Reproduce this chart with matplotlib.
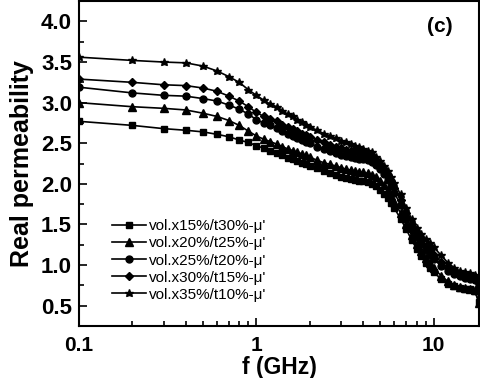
import matplotlib
matplotlib.use('Agg')
import matplotlib.pyplot as plt
from matplotlib.ticker import LogLocator, MultipleLocator, FixedLocator

plt.rcParams['font.family'] = ['Liberation Sans', 'DejaVu Sans']

# frequency points (GHz)
freq = [0.1, 0.2, 0.3, 0.4, 0.5, 0.6, 0.7, 0.8, 0.9, 1.0,
        1.1, 1.2, 1.3, 1.4, 1.5, 1.6, 1.7, 1.8, 1.9, 2.0,
        2.2, 2.4, 2.6, 2.8, 3.0, 3.2, 3.4, 3.6, 3.8, 4.0,
        4.25, 4.5, 4.75, 5.0, 5.25, 5.5, 5.75, 6.0,
        6.5, 7.0, 7.5, 8.0, 8.5, 9.0, 9.5, 10.0,
        11, 12, 13, 14, 15, 16, 17, 18]

mu_x15 = [2.77, 2.72, 2.68, 2.66, 2.64, 2.61, 2.58, 2.54, 2.51, 2.47,
          2.44, 2.41, 2.38, 2.35, 2.32, 2.30, 2.28, 2.26, 2.24, 2.22,
          2.19, 2.16, 2.13, 2.11, 2.09, 2.07, 2.06, 2.05, 2.04, 2.03,
          2.02, 2.00, 1.97, 1.93, 1.88, 1.82, 1.76, 1.70,
          1.57, 1.44, 1.31, 1.20, 1.11, 1.03, 0.97, 0.91,
          0.83, 0.77, 0.74, 0.72, 0.71, 0.70, 0.68, 0.55]
mu_x20 = [3.00, 2.95, 2.93, 2.91, 2.87, 2.83, 2.78, 2.72, 2.65, 2.59,
          2.55, 2.52, 2.49, 2.46, 2.43, 2.41, 2.39, 2.37, 2.35, 2.33,
          2.29, 2.26, 2.24, 2.22, 2.20, 2.18, 2.17, 2.16, 2.15, 2.14,
          2.13, 2.11, 2.08, 2.03, 1.98, 1.92, 1.85, 1.78,
          1.64, 1.50, 1.37, 1.26, 1.17, 1.09, 1.02, 0.96,
          0.87, 0.80, 0.76, 0.73, 0.72, 0.71, 0.69, 0.53]
mu_x25 = [3.19, 3.12, 3.09, 3.08, 3.05, 3.02, 2.97, 2.92, 2.86, 2.79,
          2.75, 2.72, 2.69, 2.65, 2.62, 2.59, 2.56, 2.54, 2.52, 2.50,
          2.46, 2.43, 2.40, 2.38, 2.36, 2.34, 2.33, 2.32, 2.31, 2.30,
          2.29, 2.27, 2.23, 2.18, 2.12, 2.05, 1.97, 1.89,
          1.74, 1.58, 1.45, 1.34, 1.26, 1.19, 1.13, 1.08,
          0.99, 0.93, 0.89, 0.86, 0.84, 0.83, 0.82, 0.75]
mu_x30 = [3.29, 3.25, 3.22, 3.21, 3.18, 3.14, 3.08, 3.02, 2.95, 2.88,
          2.83, 2.80, 2.77, 2.73, 2.70, 2.67, 2.65, 2.62, 2.60, 2.58,
          2.54, 2.51, 2.48, 2.46, 2.44, 2.42, 2.41, 2.40, 2.39, 2.38,
          2.36, 2.34, 2.29, 2.24, 2.18, 2.11, 2.03, 1.95,
          1.80, 1.64, 1.50, 1.39, 1.31, 1.24, 1.18, 1.13,
          1.04, 0.97, 0.92, 0.89, 0.87, 0.86, 0.85, 0.78]
mu_x35 = [3.56, 3.52, 3.50, 3.49, 3.45, 3.39, 3.32, 3.25, 3.16, 3.09,
          3.03, 2.98, 2.95, 2.90, 2.86, 2.83, 2.79, 2.76, 2.73, 2.70,
          2.66, 2.62, 2.59, 2.56, 2.53, 2.51, 2.49, 2.47, 2.45, 2.43,
          2.41, 2.39, 2.33, 2.28, 2.22, 2.16, 2.09, 2.01,
          1.87, 1.70, 1.57, 1.46, 1.38, 1.32, 1.27, 1.22,
          1.12, 1.03, 0.97, 0.93, 0.91, 0.90, 0.88, 0.80]

labels = ["vol.x15%/t30%-μ'", "vol.x20%/t25%-μ'", "vol.x25%/t20%-μ'",
          "vol.x30%/t15%-μ'", "vol.x35%/t10%-μ'"]
markers = ['s', '^', 'o', 'D', '*']
sizes = [4.8, 5.2, 5.0, 4.4, 6.2]
series = [mu_x15, mu_x20, mu_x25, mu_x30, mu_x35]

fig = plt.figure(figsize=(4.8, 3.78), dpi=100)
ax = fig.add_axes([0.1646, 0.1376, 0.8334, 0.8594])

for vals, m, s, lab in zip(series, markers, sizes, labels):
    ax.plot(freq, vals, color='black', lw=1.2, marker=m, ms=s, label=lab)

ax.set_xscale('log')
ax.set_xlim(0.1, 18)
ax.set_ylim(0.25, 4.25)
ax.xaxis.set_major_locator(FixedLocator([0.1, 1, 10]))
ax.xaxis.set_minor_locator(LogLocator(base=10, subs=range(2, 10)))
ax.set_xticklabels(['0.1', '1', '10'])
ax.xaxis.set_minor_formatter(plt.NullFormatter())
ax.yaxis.set_major_locator(MultipleLocator(0.5))
ax.yaxis.set_minor_locator(MultipleLocator(0.25))

ax.tick_params(which='both', direction='in', width=1.2)
ax.tick_params(which='major', length=6)
ax.tick_params(which='minor', length=3.5)
ax.tick_params(axis='x', pad=7, labelsize=15)
ax.tick_params(axis='y', pad=5, labelsize=16)
for lbl in ax.get_xticklabels() + ax.get_yticklabels():
    lbl.set_fontweight('bold')
for sp in ax.spines.values():
    sp.set_linewidth(1.5)

ax.set_xlabel('f (GHz)', fontsize=16.5, fontweight='bold', labelpad=1)
ax.set_ylabel('Real permeability', fontsize=18, fontweight='bold', labelpad=5)
ax.text(0.9025, 0.923, '(c)', transform=ax.transAxes, fontsize=15,
        fontweight='bold', ha='center', va='center')

ax.legend(loc='lower left', bbox_to_anchor=(0.0825, 0.075), frameon=False,
          fontsize=11, handlelength=2.2, handletextpad=0.2, labelspacing=0.2,
          borderpad=0, borderaxespad=0)

fig.savefig('out.png', dpi=100)
plt.close(fig)
